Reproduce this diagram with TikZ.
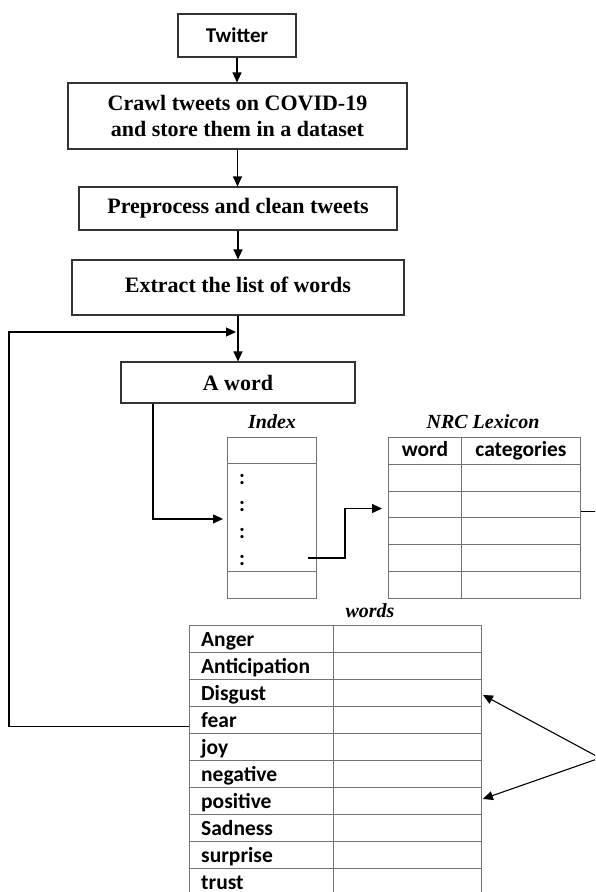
\documentclass[tikz,border=0pt]{standalone}
\usepackage{fontspec}
\setmainfont{Liberation Serif}
\newfontfamily\calibfont{Carlito}
\usetikzlibrary{arrows.meta}
\begin{document}
\begin{tikzpicture}[x=1pt,y=-1pt,
  box/.style={draw=black!80, line width=1.1pt, inner sep=0pt, font=\fontsize{22}{26}\selectfont\bfseries, align=center},
  cell/.style={draw=black!55, line width=0.9pt, inner sep=0pt, anchor=north west},
  cellt/.style={font=\calibfont\fontsize{21.5}{24}\selectfont\bfseries},
  lbl/.style={font=\fontsize{20}{24}\selectfont\bfseries\itshape, anchor=base, inner sep=0pt},
  conn/.style={draw=black, line width=1.1pt},
  arr/.style={conn, -{Triangle[length=10pt,width=9pt]}},
]
\useasboundingbox (0,0) rectangle (595,892);
\clip (0,0) rectangle (595,892);
\fill[white] (0,0) rectangle (595,892);

% flow boxes
\node[box, minimum width=118pt, minimum height=43pt, font=\calibfont\fontsize{21}{24}\selectfont\bfseries] (tw) at (237,35.5) {Twitter};
\node[box, minimum width=339pt, minimum height=66pt] (cr) at (237.5,116) {Crawl tweets on COVID-19\\and store them in a dataset};
\node[box, minimum width=318pt, minimum height=43pt] (pp) at (238,208.5) {Preprocess and clean tweets};
\node[box, minimum width=332pt, minimum height=55pt] (ex) at (238,287.5) {\raisebox{6pt}{Extract the list of words}};
\node[box, minimum width=234pt, minimum height=41pt] (aw) at (238,382.5) {A word};

% labels
\node[lbl] (lidx) at (272,428) {Index};
\node[lbl] (lnrc) at (483,428) {NRC Lexicon};
\node[lbl] (lwrd) at (370,617) {words};

% index table
\node[cell, minimum width=89pt, minimum height=26pt] (ix1) at (227,437) {};
\node[cell, minimum width=89pt, minimum height=108pt] (ix2) at (227,463) {};
\node[cell, minimum width=89pt, minimum height=27pt] (ix3) at (227,571) {};
\foreach \yy [count=\i] in {479,506,533,560}
  \node[cellt, inner sep=0pt] (dot\i) at (242,\yy) {:};

% NRC table
\foreach \r in {1,...,6} {
  \node[cell, minimum width=73pt, minimum height=26.83pt] (nl\r) at (388,{437+26.83*(\r-1)}) {};
  \node[cell, minimum width=119pt, minimum height=26.83pt] (nr\r) at (461,{437+26.83*(\r-1)}) {};
}
\node[cellt, text height=15pt, text depth=3pt, inner sep=0pt] (hword) at (nl1.center) {word};
\node[cellt, text height=15pt, text depth=3pt, inner sep=0pt] (hcat) at (nr1.center) {categories};

% words table
\foreach \t [count=\i] in {Anger,Anticipation,Disgust,fear,joy,negative,positive,Sadness,surprise,trust} {
  \node[cell, minimum width=144pt, minimum height=27pt] (wl\i) at (189,{625+27*(\i-1)}) {};
  \node[cell, minimum width=148pt, minimum height=27pt] (wr\i) at (333,{625+27*(\i-1)}) {};
  \node[cellt, anchor=base west, inner sep=0pt] (wt\i) at (201,{625+27*(\i-1)+21}) {\t};
}

% connectors
\draw[arr] (tw.south) -- (tw.south |- cr.north);
\draw[arr] (cr.south) -- (cr.south |- pp.north);
\draw[arr] (pp.south) -- (pp.south |- ex.north);
\draw[arr] (ex.south) -- (ex.south |- aw.north);
\coordinate (loopend) at (236,332);
\draw[arr] ([yshift=-6.5pt]wl4.west) -- ++(-180,0) |- (loopend);
\draw[arr] ([xshift=-85pt]aw.south) |- ([xshift=-4pt,yshift=-1.5pt]ix2.west);
\coordinate (ixout) at (308,558);
\draw[arr] (ixout) -- ++(37,0) |- ([xshift=-6pt,yshift=-4pt]nl3.west);
\draw[conn] ([yshift=-7pt]nr3.east) -- ++(20,0);
\coordinate (rc) at (600,758);
\draw[arr] (rc) -- ([xshift=1pt,yshift=-2pt]wr3.east);
\draw[arr] (rc) -- ([xshift=1pt,yshift=2pt]wr7.east);
\end{tikzpicture}
\end{document}
